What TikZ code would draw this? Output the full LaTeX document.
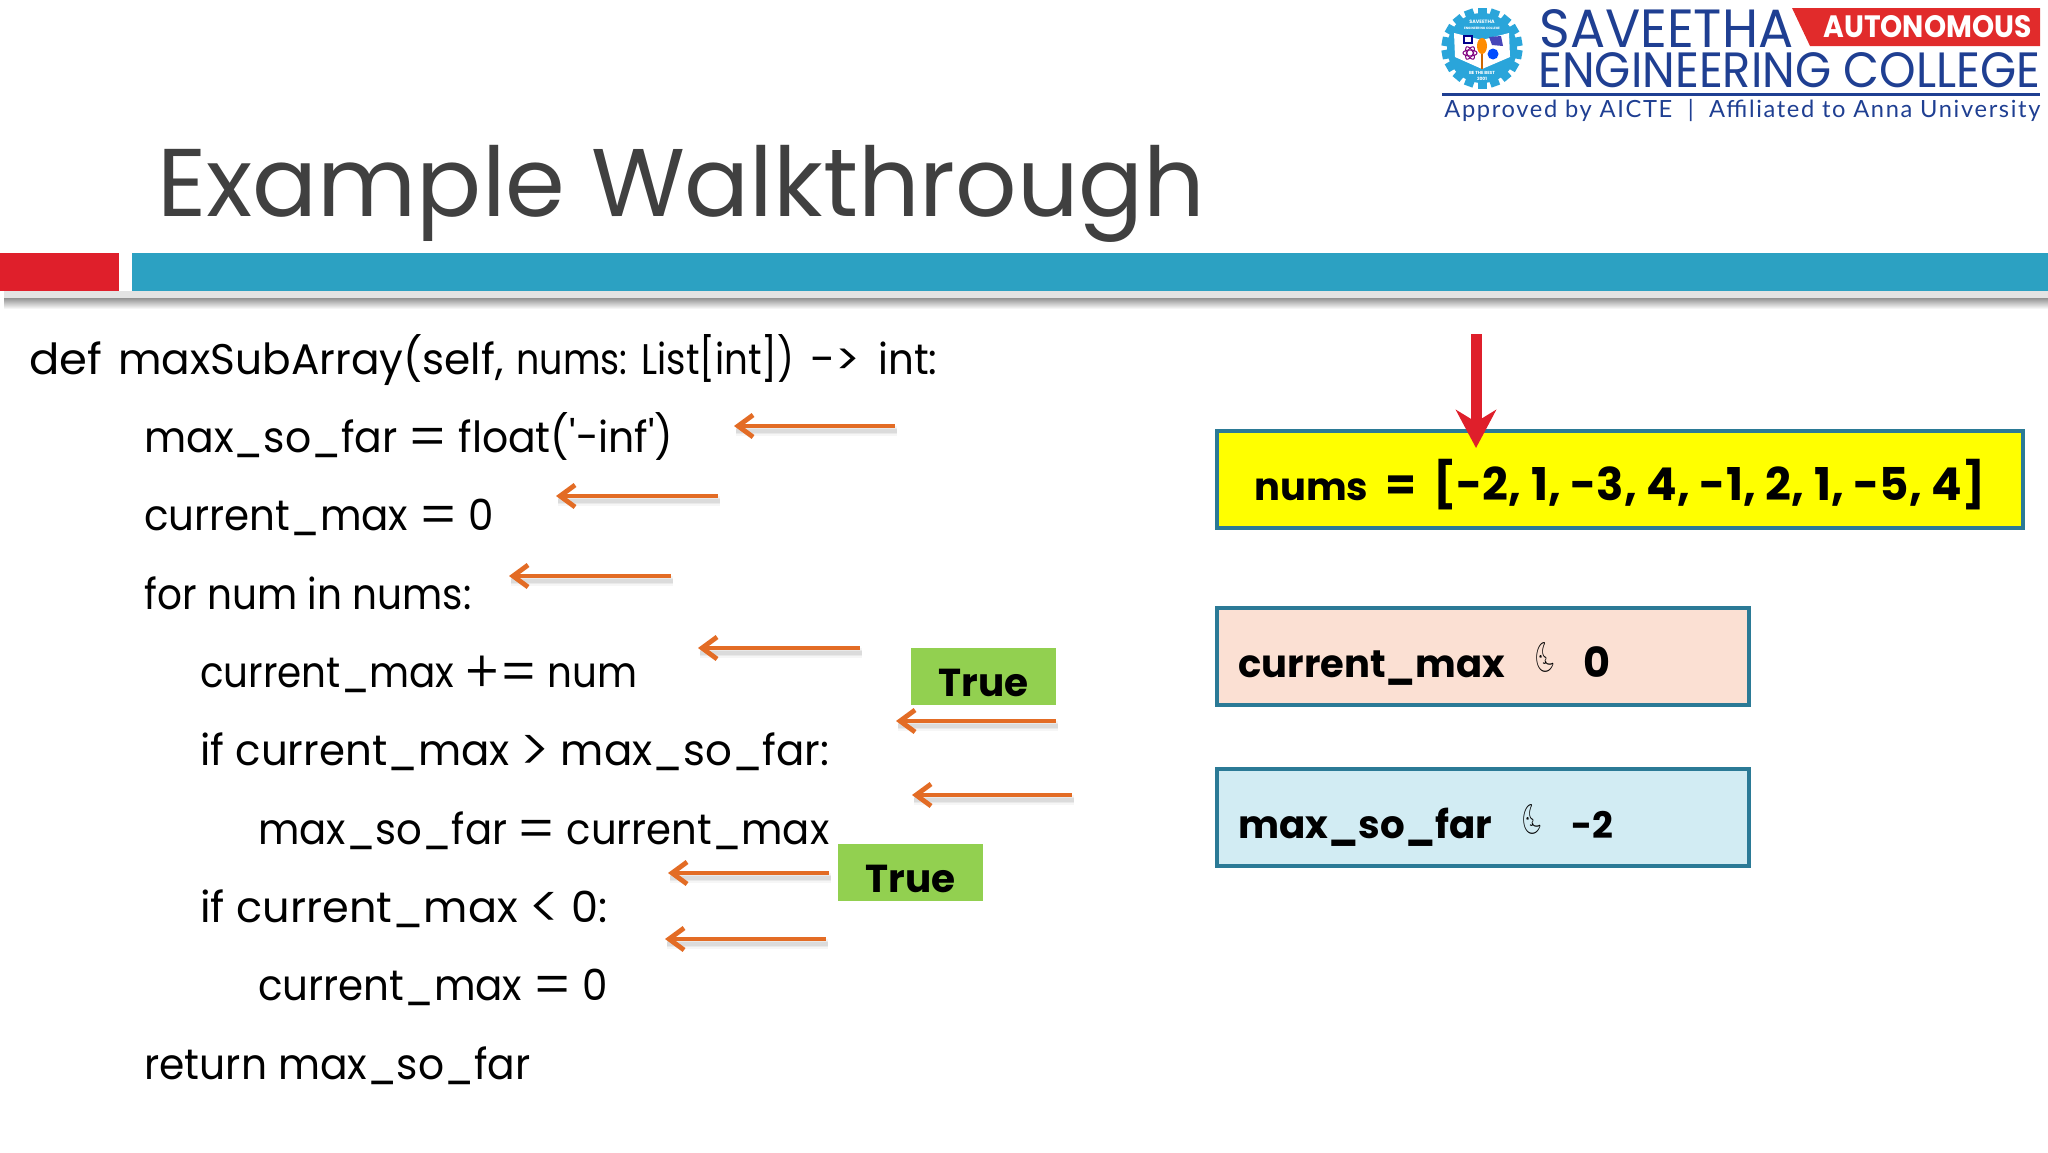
\documentclass[tikz,border=0pt]{standalone}
\usepackage{graphicx}
\usepackage{fontspec}
\setmainfont{Poppins}
\newfontfamily\codefont{Poppins}
\newfontfamily\opfont{Poppins Light}
\newfontfamily\emojifont{Noto Emoji}
\newfontfamily\logofont{Poppins}
\newfontfamily\spacedfont[LetterSpace=7]{Lato}
\usetikzlibrary{arrows.meta,shadings,calc}
\newlength\unitpx \unitpx=0.5pt
\newcommand\fw[2]{\resizebox{#1\unitpx}{!}{#2}}
\newcommand\fwh[3]{\resizebox{#1\unitpx}{#2\unitpx}{#3}}
\newcommand\fcode[2]{\resizebox{#1\unitpx}{40\unitpx}{\vphantom{(}#2}}
\newcommand\opx[1]{\raisebox{-0.14em}{\scalebox{1.4}{\opfont #1}}}
\newcommand\gapx[1]{\hspace{#1\unitpx}}
\definecolor{titlegray}{HTML}{404040}
\definecolor{barred}{HTML}{DF1F2B}
\definecolor{barblue}{HTML}{2CA1C2}
\definecolor{arroworange}{HTML}{E36C25}
\definecolor{boxedge}{HTML}{2B7A96}
\definecolor{truegreen}{HTML}{92D050}
\definecolor{peach}{HTML}{FBE0D3}
\definecolor{paleblue}{HTML}{D2ECF3}
\definecolor{numyellow}{HTML}{FFFF00}
\definecolor{logoblue}{HTML}{1F3F92}
\definecolor{logored}{HTML}{E12B2B}
\definecolor{gearblue}{HTML}{2AA5DA}
\tikzset{
  codeline/.style={anchor=base west,inner sep=0pt,text=black,font=\codefont\fontsize{22}{26}\selectfont},
  boldlabel/.style={anchor=base west,inner sep=0pt,text=black,font=\bfseries\fontsize{20}{24}\selectfont},
  logotext/.style={anchor=base west,inner sep=0pt,text=logoblue,font=\logofont\fontsize{20}{24}\selectfont},
  valuebox/.style={draw=boxedge,line width=2pt,inner sep=0pt},
  truebox/.style={fill=truegreen,inner sep=0pt,minimum width=72.5pt,text depth=4.5pt,text height=24pt,font=\bfseries\fontsize{20}{24}\selectfont},
  moonmark/.style={anchor=center,inner sep=0pt,font=\emojifont\fontsize{14}{14}\selectfont},
  codearrow/.style={draw=arroworange,line width=2.4pt,
    -{Straight Barb[length=7.5pt,width=11pt,line width=2.4pt]},
    preaction={draw=black,draw opacity=0.035,line width=5pt,-,transform canvas={xshift=1pt,yshift=-2.5pt}},
    preaction={draw=black,draw opacity=0.05,line width=3.2pt,-,transform canvas={xshift=1pt,yshift=-2.5pt}},
    preaction={draw=black,draw opacity=0.06,line width=1.6pt,-,transform canvas={xshift=1pt,yshift=-2.5pt}}},
  pointer/.style={draw=barred,line width=5.5pt,-{Stealth[length=19pt,width=20pt,inset=6pt]}},
}
\begin{document}
\begin{tikzpicture}[x=0.5pt,y=-0.5pt]
\useasboundingbox (0,0) rectangle (2048,1152);
\fill[white] (0,0) rectangle (2048,1152);
% header rule
\fill[gray!22] (4,291) rectangle (2048,298);
\shade[top color=gray!85,bottom color=white] (4,298) rectangle (2048,309);
\fill[barred] (0,253) rectangle (119,291);
\fill[barblue] (132,253) rectangle (2048,291);
% title
\node[anchor=base west,inner sep=0pt,text=titlegray,font=\fontsize{50}{60}\selectfont] (title) at (157,216) {\fw{1048}{Example Walkthrough}};
% logo gear
\begin{scope}[shift={(1482,48)}]
  \foreach \a in {0,20,...,340}{
    \fill[gearblue,rotate=\a] (-4.5,-40.5) rectangle (4.5,-30);
  }
  \fill[gearblue] (0,0) circle (35);
  \fill[white] (-28,-15) -- (0,-8) -- (27,-15) -- (28,9) -- (0,21) -- (-27,9) -- cycle;
  \fill[blue!55!black] (-19,-13) rectangle (-9,-4);
  \fill[white] (-17,-11) rectangle (-11,-6);
  \fill[gray!55!blue] (7,-11) -- (19,-12) -- (21,-2) -- (10,-3) -- cycle;
  \draw[violet,line width=0.5pt] (-12,5) ellipse (7 and 3);
  \draw[violet,line width=0.5pt,rotate around={60:(-12,5)}] (-12,5) ellipse (7 and 3);
  \draw[violet,line width=0.5pt,rotate around={120:(-12,5)}] (-12,5) ellipse (7 and 3);
  \fill[blue!70!cyan] (11,6) circle (5.5);
  \draw[orange!80!black,line width=0.7pt] (0,4) -- (0,21);
  \fill[orange!90!yellow] (0,-2) ellipse (5 and 8);
  \node[inner sep=0pt,text=white,font=\bfseries\fontsize{2.4}{3}\selectfont] (gearname) at (0,-26) {SAVEETHA};
  \node[inner sep=0pt,text=white,font=\bfseries\fontsize{1.6}{2}\selectfont] (gearcollege) at (0,-20) {ENGINEERING COLLEGE};
  \node[inner sep=0pt,text=white,font=\bfseries\fontsize{2.2}{3}\selectfont] (gearmotto) at (0,25) {BE THE BEST};
  \node[inner sep=0pt,text=white,font=\bfseries\fontsize{2.2}{3}\selectfont] (gearyear) at (0,30.5) {2001};
\end{scope}
% logo text
\node[logotext] (saveetha) at (1539,47) {\fwh{254}{38}{SAVEETHA}};
\fill[logored] (1792,8) -- (2040,8) -- (2040,46) -- (1810,46) -- cycle;
\node[anchor=base west,inner sep=0pt,text=white,font=\bfseries\fontsize{14}{16}\selectfont] (autonomous) at (1823,37) {\fwh{208}{22}{AUTONOMOUS}};
\node[logotext] (engineering) at (1538,87) {\fwh{502}{35}{ENGINEERING COLLEGE}};
\draw[logoblue,line width=1.5pt] (1442,94) -- (2040,94);
\node[logotext,font=\spacedfont\fontsize{20}{24}\selectfont] (approved) at (1444,117) {\fw{596}{Approved by AICTE \ | \ Affiliated to Anna University}};
% code
\node[codeline] (l1) at (29,374) {\fcode{73}{def}\gapx{16}\fcode{385}{maxSubArray(self,}\gapx{13}\fcode{111}{nums:}\gapx{14}\fcode{153}{List[int])}\gapx{16}\fcode{50}{->}\gapx{18}\fcode{59}{int:}};
\node[codeline] (l2) at (144,452) {\fcode{529}{max\_so\_far \opx{=} float('-inf')}};
\node[codeline] (l3) at (144,530) {\fcode{349}{current\_max \opx{=} 0}};
\node[codeline] (l4) at (144,609) {\fcode{327}{for num in nums:}};
\node[codeline] (l5) at (200,687) {\fcode{437}{current\_max \opx{+}\opx{=} num}};
\node[codeline] (l6) at (200,765) {\fcode{629}{if current\_max \opx{>} max\_so\_far:}};
\node[codeline] (l7) at (258,844) {\fcode{571}{max\_so\_far \opx{=} current\_max}};
\node[codeline] (l8) at (200,922) {\fcode{407}{if current\_max \opx{<} 0:}};
\node[codeline] (l9) at (258,1000) {\fcode{349}{current\_max \opx{=} 0}};
\node[codeline] (l10) at (144,1079) {\fcode{386}{return max\_so\_far}};
% arrows
\foreach \n/\tx/\hx/\yy in {a/895/734/426,b/718/556/496,c/671/509/576,d/860/698/648,e/1056/896/721,f/1072/912/795,g/829/668/873,h/826/665/939}{
  \coordinate (\n tail) at (\tx,\yy);
  \coordinate (\n head) at (\hx,\yy);
  \draw[codearrow] (\n tail) -- (\n head);
}
% true boxes
\node[truebox] (true1) at (983.5,676.5) {\fw{90}{True}};
\node[truebox] (true2) at (910.5,872.5) {\fw{90}{True}};
% value boxes
\draw[valuebox,fill=numyellow] (1217,431) rectangle (2023,528);
\coordinate (ptrtop) at (1476,334);
\coordinate (ptrtip) at (1476,448);
\draw[pointer] (ptrtop) -- (ptrtip);
\node[boldlabel] (numstext) at (1254,500.5) {\fw{114}{nums}\gapx{17}\fw{31}{=}\gapx{17}\fw{552}{[-2, 1, -3, 4, -1, 2, 1, -5, 4]}};
\draw[valuebox,fill=peach] (1217,608) rectangle (1749,705);
\node[boldlabel] (cmname) at (1238,677) {\fw{267}{current\_max}};
\node[moonmark] (cmmoon) at (1545,657) {\scalebox{0.65}[1.05]{\symbol{"1F31C}}};
\node[boldlabel] (cmval) at (1583,677) {\fw{27}{0}};
\draw[valuebox,fill=paleblue] (1217,769) rectangle (1749,866);
\node[boldlabel] (msname) at (1238,838) {\fw{254}{max\_so\_far}};
\node[moonmark] (msmoon) at (1532,819) {\scalebox{0.65}[1.05]{\symbol{"1F31C}}};
\node[boldlabel] (msval) at (1571,838) {\fw{42}{-2}};
\end{tikzpicture}
\end{document}
